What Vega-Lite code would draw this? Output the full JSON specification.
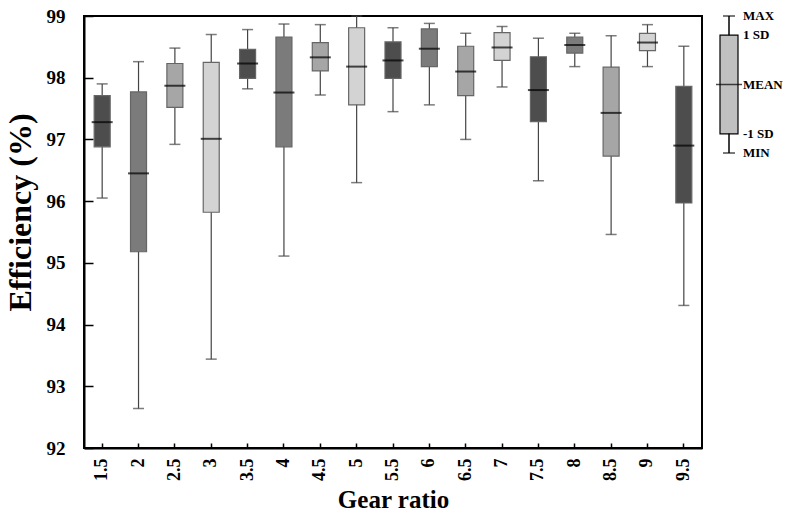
{
  "$schema": "https://vega.github.io/schema/vega-lite/v6.json",
  "background": "white",
  "padding": {"left": 3, "top": 6, "right": 3, "bottom": 5},
  "config": {
    "font": "Liberation Serif",
    "axis": {"labelFont": "Liberation Serif", "titleFont": "Liberation Serif", "labelFontWeight": "bold", "titleFontWeight": "bold", "labelColor": "black", "titleColor": "black", "domainColor": "black", "tickColor": "black", "grid": false}
  },
  "bounds": "flush",
  "spacing": 17,
  "datasets": {
    "boxes": [
      {"ratio": "1.5", "min": 96.05, "lo": 96.88, "mean": 97.28, "hi": 97.71, "max": 97.9},
      {"ratio": "2", "min": 92.64, "lo": 95.18, "mean": 96.45, "hi": 97.77, "max": 98.26},
      {"ratio": "2.5", "min": 96.92, "lo": 97.52, "mean": 97.87, "hi": 98.23, "max": 98.48},
      {"ratio": "3", "min": 93.44, "lo": 95.82, "mean": 97.01, "hi": 98.25, "max": 98.7},
      {"ratio": "3.5", "min": 97.82, "lo": 97.99, "mean": 98.23, "hi": 98.46, "max": 98.78},
      {"ratio": "4", "min": 95.11, "lo": 96.88, "mean": 97.76, "hi": 98.66, "max": 98.87},
      {"ratio": "4.5", "min": 97.72, "lo": 98.11, "mean": 98.33, "hi": 98.57, "max": 98.86},
      {"ratio": "5", "min": 96.3, "lo": 97.56, "mean": 98.18, "hi": 98.81, "max": 99.0},
      {"ratio": "5.5", "min": 97.45, "lo": 97.99, "mean": 98.28, "hi": 98.58, "max": 98.81},
      {"ratio": "6", "min": 97.56, "lo": 98.18, "mean": 98.47, "hi": 98.79, "max": 98.88},
      {"ratio": "6.5", "min": 97.0, "lo": 97.71, "mean": 98.1, "hi": 98.51, "max": 98.72},
      {"ratio": "7", "min": 97.85, "lo": 98.28, "mean": 98.49, "hi": 98.73, "max": 98.83},
      {"ratio": "7.5", "min": 96.33, "lo": 97.29, "mean": 97.8, "hi": 98.34, "max": 98.64},
      {"ratio": "8", "min": 98.18, "lo": 98.4, "mean": 98.53, "hi": 98.66, "max": 98.72},
      {"ratio": "8.5", "min": 95.46, "lo": 96.73, "mean": 97.43, "hi": 98.17, "max": 98.68},
      {"ratio": "9", "min": 98.18, "lo": 98.44, "mean": 98.57, "hi": 98.72, "max": 98.86},
      {"ratio": "9.5", "min": 94.31, "lo": 95.97, "mean": 96.9, "hi": 97.86, "max": 98.51}
    ],
    "legend": [
      {"k": "L", "min": 96.78, "lo": 97.09, "mean": 97.89, "hi": 98.69, "max": 99.0}
    ],
    "legendText": [
      {"k": "L", "v": 99.0, "t": "MAX", "m": "n"},
      {"k": "L", "v": 98.69, "t": "1 SD", "m": "n"},
      {"k": "L", "v": 97.89, "t": "MEAN", "m": "y"},
      {"k": "L", "v": 97.09, "t": "-1 SD", "m": "n"},
      {"k": "L", "v": 96.78, "t": "MIN", "m": "n"}
    ]
  },
  "hconcat": [
    {
      "width": 618,
      "height": 432,
      "view": {"stroke": "black", "strokeWidth": 2},
      "data": {"name": "boxes"},
      "encoding": {
        "x": {
          "field": "ratio", "type": "nominal", "sort": null,
          "scale": {"paddingInner": 0.5, "paddingOuter": 0.25},
          "axis": {"title": "Gear ratio", "labelAngle": -90, "labelFontSize": 18, "titleFontSize": 25, "tickSize": -5, "labelPadding": 15, "titlePadding": 7, "domainWidth": 2, "tickWidth": 1.5}
        }
      },
      "layer": [
        {
          "mark": {"type": "rule", "color": "#444", "strokeWidth": 1.2},
          "encoding": {
            "y": {"field": "min", "type": "quantitative", "scale": {"domain": [92, 99], "zero": false, "nice": false},
              "axis": {"title": "Efficiency (%)", "titleFontSize": 32, "titleY": 196, "labelFontSize": 19, "values": [92, 92.5, 93, 93.5, 94, 94.5, 95, 95.5, 96, 96.5, 97, 97.5, 98, 98.5, 99], "labelExpr": "datum.value % 1 === 0 ? format(datum.value, 'd') : ''", "tickSize": {"condition": {"test": "datum.value % 1 === 0", "value": -9}, "value": -4}, "labelPadding": 28, "titlePadding": 9, "domainWidth": 2, "tickWidth": 1.5}},
            "y2": {"field": "max"}
          }
        },
        {
          "mark": {"type": "tick", "color": "#444", "size": 11, "thickness": 1.5},
          "encoding": {"y": {"field": "min", "type": "quantitative"}}
        },
        {
          "mark": {"type": "tick", "color": "#444", "size": 11, "thickness": 1.5},
          "encoding": {"y": {"field": "max", "type": "quantitative"}}
        },
        {
          "mark": {"type": "bar", "size": 16, "stroke": "#666", "strokeWidth": 1.2},
          "encoding": {
            "y": {"field": "lo", "type": "quantitative"},
            "y2": {"field": "hi"},
            "fill": {"field": "ratio", "type": "nominal", "sort": null, "legend": null,
              "scale": {"domain": ["1.5", "2", "2.5", "3", "3.5", "4", "4.5", "5", "5.5", "6", "6.5", "7", "7.5", "8", "8.5", "9", "9.5"], "range": ["#4d4d4d", "#7b7b7b", "#a6a6a6", "#d3d3d3"]}}
          }
        },
        {
          "mark": {"type": "tick", "color": "black", "size": 21, "thickness": 2},
          "encoding": {"y": {"field": "mean", "type": "quantitative"}}
        }
      ]
    },
    {
      "width": 20,
      "height": 432,
      "view": {"stroke": null},
      "encoding": {
        "x": {"field": "k", "type": "nominal", "axis": null, "scale": {"paddingInner": 0, "paddingOuter": 0}}
      },
      "layer": [
        {
          "data": {"name": "legend"},
          "mark": {"type": "rule", "color": "black", "strokeWidth": 1.5},
          "encoding": {
            "y": {"field": "min", "type": "quantitative", "scale": {"domain": [92, 99], "zero": false, "nice": false}, "axis": null},
            "y2": {"field": "max"}
          }
        },
        {
          "data": {"name": "legend"},
          "mark": {"type": "tick", "color": "black", "size": 12, "thickness": 1.5},
          "encoding": {"y": {"field": "min", "type": "quantitative"}}
        },
        {
          "data": {"name": "legend"},
          "mark": {"type": "tick", "color": "black", "size": 12, "thickness": 1.5},
          "encoding": {"y": {"field": "max", "type": "quantitative"}}
        },
        {
          "data": {"name": "legend"},
          "mark": {"type": "bar", "size": 18, "fill": "#c0c0c0", "stroke": "black", "strokeWidth": 1.2},
          "encoding": {"y": {"field": "lo", "type": "quantitative"}, "y2": {"field": "hi"}}
        },
        {
          "data": {"name": "legend"},
          "mark": {"type": "tick", "color": "black", "size": 26, "thickness": 1.5},
          "encoding": {"y": {"field": "mean", "type": "quantitative"}}
        },
        {
          "data": {"name": "legendText"},
          "mark": {"type": "text", "align": "left", "baseline": "middle", "dx": 14, "font": "Liberation Serif", "fontWeight": "bold", "fontSize": 13, "color": "black"},
          "encoding": {"y": {"field": "v", "type": "quantitative"}, "text": {"field": "t"}}
        }
      ]
    }
  ]
}
